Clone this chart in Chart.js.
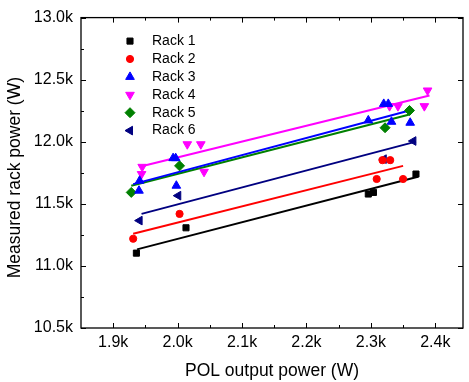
<!DOCTYPE html>
<html>
<head>
<meta charset="utf-8">
<script src="https://cdn.jsdelivr.net/npm/chart.js@4.4.0/dist/chart.umd.min.js"></script>
<style>
body { margin: 0; background: #fff; }
#wrap { width: 469px; height: 382px; position: relative; }
</style>
</head>
<body>
<div id="wrap"><canvas id="myChart"></canvas></div>
<script>
// measured points (x = POL output power, y = rack power, both W)
const rack1X = [1936, 2013, 2296, 2304, 2370];
const rack1Y = [11103, 11307, 11579, 11592, 11740];
const rack2X = [1931, 2003, 2309, 2350, 2318, 2330];
const rack2Y = [11219, 11419, 11700, 11700, 11852, 11852];
const rack3X = [1941, 1940, 1993, 1997, 1998, 2296, 2320, 2327, 2332, 2361];
const rack3Y = [11686, 11606, 11868, 11868, 11646, 12172, 12305, 12305, 12161, 12153];
const rack4X = [1945, 1944, 2015, 2036, 2041, 2329, 2342, 2383, 2388];
const rack4Y = [11798, 11740, 11980, 11980, 11758, 12287, 12287, 12287, 12413];
const rack5X = [1928, 2003, 2322, 2360];
const rack5Y = [11592, 11806, 12113, 12252];
const rack6X = [1941, 2001, 2320, 2366];
const rack6Y = [11365, 11566, 11860, 12006];

// linear fit lines, end points
const fit1X = [1937, 2373], fit1Y = [11133, 11718];
const fit2X = [1931, 2350], fit2Y = [11259, 11806];
const fit3X = [1931, 2360], fit3Y = [11659, 12252];
const fit4X = [1941, 2391], fit4Y = [11798, 12373];
const fit5X = [1928, 2360], fit5Y = [11646, 12220];
const fit6X = [1944, 2370], fit6Y = [11419, 12001];

const rackNames = ['Rack 1', 'Rack 2', 'Rack 3', 'Rack 4', 'Rack 5', 'Rack 6'];
const xTicks = [1900, 2000, 2100, 2200, 2300, 2400];
const xMinor = [1950, 2050, 2150, 2250, 2350];
const yTicks = [10500, 11000, 11500, 12000, 12500, 13000];
const yMinor = [10750, 11250, 11750, 12250, 12750];

const colors = ['#000000', '#ff0000', '#0000ff', '#ff00ff', '#008000', '#000080'];
const styles = [
  {pointStyle: 'rect', radius: 4.3, rotation: 0},
  {pointStyle: 'circle', radius: 3.6, rotation: 0},
  {pointStyle: 'triangle', radius: 5, rotation: 0},
  {pointStyle: 'triangle', radius: 5, rotation: 180},
  {pointStyle: 'rectRot', radius: 5, rotation: 0},
  {pointStyle: 'triangle', radius: 5, rotation: -90}
];

const allX = [rack1X, rack2X, rack3X, rack4X, rack5X, rack6X];
const allY = [rack1Y, rack2Y, rack3Y, rack4Y, rack5Y, rack6Y];
const fitsX = [fit1X, fit2X, fit3X, fit4X, fit5X, fit6X];
const fitsY = [fit1Y, fit2Y, fit3Y, fit4Y, fit5Y, fit6Y];

function pairs(xs, ys) {
  return xs.map(function(v, i) { return {x: v, y: ys[i]}; });
}

const datasets = [];
rackNames.forEach(function(name, i) {
  datasets.push({
    type: 'scatter',
    label: name,
    data: pairs(allX[i], allY[i]),
    pointStyle: styles[i].pointStyle,
    pointRadius: styles[i].radius,
    pointRotation: styles[i].rotation,
    pointBackgroundColor: colors[i],
    pointBorderColor: colors[i],
    pointBorderWidth: 1,
    pointHoverRadius: styles[i].radius,
    order: 1
  });
});
rackNames.forEach(function(name, i) {
  datasets.push({
    type: 'line',
    label: name + ' fit',
    data: pairs(fitsX[i], fitsY[i]),
    borderColor: colors[i],
    borderWidth: 2,
    pointRadius: 0,
    fill: false,
    order: 2
  });
});

const fmtK = function(v) { return (v / 1000).toFixed(1) + 'k'; };

// frame with inward ticks + legend inside the plot
const framePlugin = {
  id: 'frame',
  afterDatasetsDraw(chart) {
    const ctx = chart.ctx, a = chart.chartArea;
    const x = chart.scales.x, y = chart.scales.y;
    ctx.save();
    ctx.strokeStyle = '#000';
    ctx.lineWidth = 1.3;
    ctx.strokeRect(a.left, a.top, a.right - a.left, a.bottom - a.top);
    ctx.lineWidth = 1;
    ctx.beginPath();
    xTicks.forEach(function(v) {
      const p = Math.round(x.getPixelForValue(v)) + 0.5;
      ctx.moveTo(p, a.bottom); ctx.lineTo(p, a.bottom - 5);
      ctx.moveTo(p, a.top); ctx.lineTo(p, a.top + 5);
    });
    xMinor.forEach(function(v) {
      const p = Math.round(x.getPixelForValue(v)) + 0.5;
      ctx.moveTo(p, a.bottom); ctx.lineTo(p, a.bottom - 3);
      ctx.moveTo(p, a.top); ctx.lineTo(p, a.top + 3);
    });
    yTicks.forEach(function(v) {
      const p = Math.round(y.getPixelForValue(v)) + 0.5;
      ctx.moveTo(a.left, p); ctx.lineTo(a.left + 5, p);
      ctx.moveTo(a.right, p); ctx.lineTo(a.right - 5, p);
    });
    yMinor.forEach(function(v) {
      const p = Math.round(y.getPixelForValue(v)) + 0.5;
      ctx.moveTo(a.left, p); ctx.lineTo(a.left + 3, p);
    });
    ctx.stroke();

    // legend
    ctx.font = "14px 'Liberation Sans', Arial, sans-serif";
    ctx.textBaseline = 'middle';
    ctx.textAlign = 'left';
    rackNames.forEach(function(name, i) {
      const ly = a.top + 23.5 + i * 17.9;
      ctx.fillStyle = colors[i];
      ctx.strokeStyle = colors[i];
      ctx.lineWidth = 1;
      Chart.helpers.drawPoint(ctx, {
        pointStyle: styles[i].pointStyle,
        radius: styles[i].radius,
        rotation: styles[i].rotation,
        borderWidth: 1
      }, a.left + 49, ly);
      ctx.fillStyle = '#000';
      ctx.fillText(name, a.left + 71, ly);
    });
    ctx.restore();
  }
};

Chart.defaults.font.family = "'Liberation Sans', Arial, sans-serif";
Chart.defaults.color = '#000';

var ctx = document.getElementById('myChart').getContext('2d');
var myChart = new Chart(ctx, {
  data: {datasets: datasets},
  options: {
    responsive: true,
    maintainAspectRatio: false,
    animation: false,
    layout: {padding: {top: 16, right: 1, left: 0, bottom: 0}},
    plugins: {
      legend: {display: false},
      tooltip: {enabled: false}
    },
    scales: {
      x: {
        type: 'linear',
        min: 1850,
        max: 2443,
        grid: {display: false, drawTicks: false},
        border: {display: false},
        afterBuildTicks: function(s) { s.ticks = xTicks.map(function(v) { return {value: v}; }); },
        afterFit: function(s) { s.height = 54; },
        ticks: {callback: fmtK, padding: 5, font: {size: 16}, color: '#000', maxRotation: 0, autoSkip: false},
        title: {display: true, text: 'POL output power (W)', font: {size: 17.5}, color: '#000', padding: {top: 0, bottom: 0}}
      },
      y: {
        type: 'linear',
        min: 10500,
        max: 13000,
        grid: {display: false, drawTicks: false},
        border: {display: false},
        afterBuildTicks: function(s) { s.ticks = yTicks.map(function(v) { return {value: v}; }); },
        afterFit: function(s) { s.width = 81; },
        ticks: {callback: fmtK, padding: 8, font: {size: 16}, color: '#000', autoSkip: false},
        title: {display: true, text: 'Measured rack power (W)  ', font: {size: 17.5}, color: '#000', padding: {top: 5, bottom: 0}}
      }
    }
  },
  plugins: [framePlugin]
});
</script>
</body>
</html>
